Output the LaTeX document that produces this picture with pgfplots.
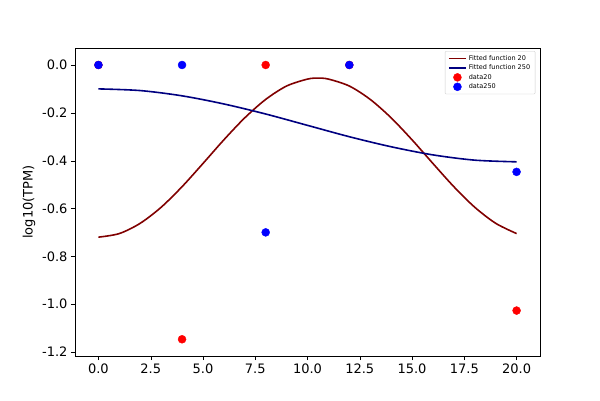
\documentclass[border=0pt]{standalone}
\usepackage{pgfplots}
\pgfplotsset{compat=1.18}
\usepackage{fontspec}
\setmainfont{DejaVu Sans}
\begin{document}
\begin{tikzpicture}
\begin{axis}[name=ax, at={(0,0)}, anchor=south west,
  scale only axis, width=465pt, height=308pt,
  xmin=-1.12, xmax=21.12, ymin=-1.217, ymax=0.071,
  xtick={0,2.5,...,20}, ytick={-1.2,-1.0,-0.8,-0.6,-0.4,-0.2,0},
  /pgf/number format/assume math mode=true,
  xticklabel style={/pgf/number format/fixed,/pgf/number format/precision=1,/pgf/number format/fixed zerofill},
  yticklabel style={/pgf/number format/fixed,/pgf/number format/precision=1,/pgf/number format/fixed zerofill},
  tick label style={font=\fontsize{13}{15}\selectfont},
  ylabel={log10(TPM)}, ylabel style={font=\fontsize{13}{15}\selectfont},
  tick align=outside, tick style={black}, major tick length=4pt,
  xtick pos=bottom, ytick pos=left,
  legend style={at={(0.99,0.99)}, anchor=north east, font=\fontsize{6.5}{8}\selectfont, draw=gray!40, rounded corners=1pt, row sep=-1pt},
  legend cell align=left]
\addplot[color=red!50!black, line width=1.6pt, smooth] coordinates {(0,-0.720)(1,-0.705)(2,-0.662)(3,-0.595)(4,-0.509)(5,-0.412)(6,-0.313)(7,-0.221)(8,-0.144)(9,-0.088)(10,-0.059)(10.5,-0.055)(11,-0.059)(12,-0.088)(13,-0.144)(14,-0.221)(15,-0.313)(16,-0.412)(17,-0.509)(18,-0.595)(19,-0.662)(20,-0.705)};
\addlegendentry{Fitted function 20}
\addplot[color=blue!50!black, line width=1.6pt, smooth] coordinates {(0,-0.100)(2,-0.107)(4,-0.129)(6,-0.163)(8,-0.205)(10,-0.2525)(12,-0.300)(14,-0.342)(16,-0.376)(18,-0.398)(20,-0.405)};
\addlegendentry{Fitted function 250}
\addplot[only marks, mark=*, mark size=4pt, color=red] coordinates {(0,0)(4,-1.147)(8,0)(12,0)(20,-1.027)};
\addlegendentry{data20}
\addplot[only marks, mark=*, mark size=4pt, color=blue] coordinates {(0,0)(4,0)(8,-0.70)(12,0)(20,-0.447)};
\addlegendentry{data250}
\end{axis}
\useasboundingbox (-75pt,-44pt) rectangle (525pt,356pt);
\end{tikzpicture}
\end{document}
